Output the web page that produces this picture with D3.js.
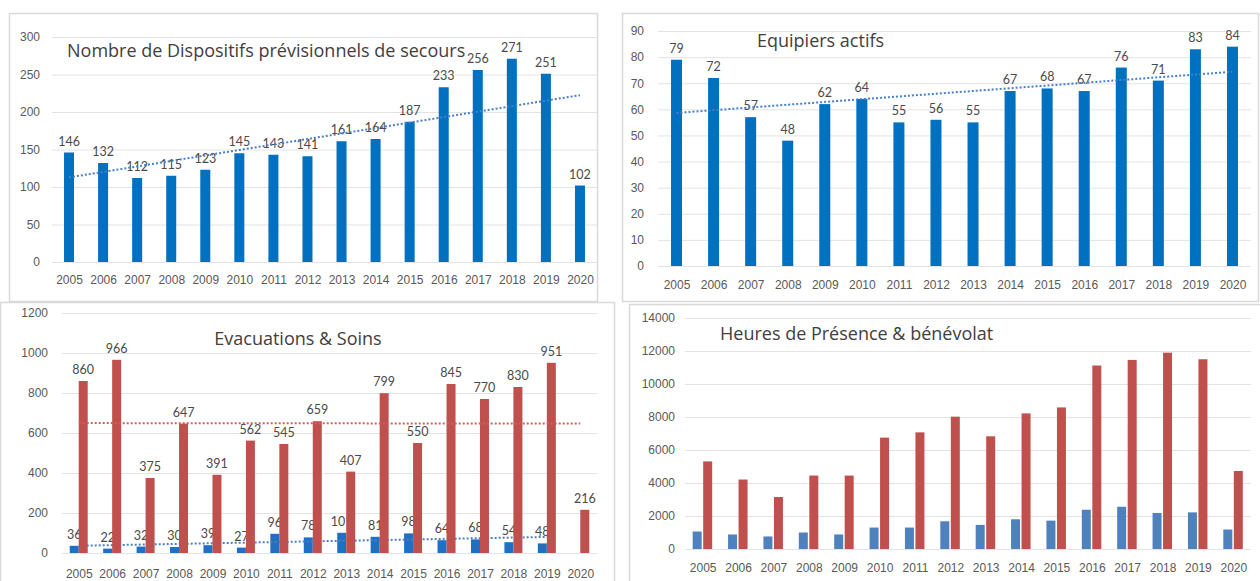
<!DOCTYPE html>
<html>
<head>
<meta charset="utf-8">
<script src="https://cdn.jsdelivr.net/npm/d3@7"></script>
<style>
  body { margin: 0; background: #fff; }
  svg { display: block; font-family: Lato, 'Open Sans', sans-serif; }
</style>
</head>
<body>
<svg width="1260" height="581"></svg>
<script>
const years = ['2005', '2006', '2007', '2008', '2009', '2010', '2011', '2012',
  '2013', '2014', '2015', '2016', '2017', '2018', '2019', '2020'];

// Nombre de Dispositifs prévisionnels de secours
const dispositifs = [146, 132, 112, 115, 123, 145, 143, 141, 161, 164, 187, 233, 256, 271, 251, 102];
// Equipiers actifs
const equipiers = [79, 72, 57, 48, 62, 64, 55, 56, 55, 67, 68, 67, 76, 71, 83, 84];
// Evacuations & Soins (bleu / rouge), pas de valeur bleue en 2020
const evacBleu = [36, 22, 32, 30, 39, 27, 96, 78, 101, 81, 98, 64, 68, 54, 48, null];
const evacRouge = [860, 966, 375, 647, 391, 562, 545, 659, 407, 799, 550, 845, 770, 830, 951, 216];
// Heures de Présence & bénévolat
const heuresBleu = [1060, 880, 760, 1000, 880, 1300, 1300, 1680, 1460, 1800, 1720, 2380, 2560, 2180, 2220, 1180];
const heuresRouge = [5310, 4210, 3150, 4450, 4450, 6750, 7070, 8020, 6830, 8220, 8580, 11120, 11460, 11900, 11500, 4730];

const ticks1 = [0, 50, 100, 150, 200, 250, 300];
const ticks2 = [0, 10, 20, 30, 40, 50, 60, 70, 80, 90];
const ticks3 = [0, 200, 400, 600, 800, 1000, 1200];
const ticks4 = [0, 2000, 4000, 6000, 8000, 10000, 12000, 14000];

const svg = d3.select('svg');

// droite de tendance (moindres carrés) sur les valeurs présentes
function trend(values) {
  const pts = values.map((v, i) => [i, v]).filter((p) => p[1] != null);
  const n = pts.length;
  const mx = d3.mean(pts, (p) => p[0]);
  const my = d3.mean(pts, (p) => p[1]);
  const sxy = d3.sum(pts, (p) => (p[0] - mx) * (p[1] - my));
  const sxx = d3.sum(pts, (p) => (p[0] - mx) * (p[0] - mx));
  const b = sxy / sxx;
  const a = my - b * mx;
  return [pts[0][0], pts[n - 1][0]].map((i) => ({ i, v: a + b * i }));
}

function drawPanel(o) {
  const g = svg.append('g');

  g.append('rect')
    .attr('x', o.frame[0] + 0.5).attr('y', o.frame[1] + 0.5)
    .attr('width', o.frame[2]).attr('height', o.frame[3])
    .attr('fill', '#fff').attr('stroke', '#d9d9d9').attr('stroke-width', 1.5);

  const x = d3.scalePoint().domain(years).range(o.xRange).padding(0.5);
  const y = d3.scaleLinear().domain([0, o.ticks[o.ticks.length - 1]]).range(o.yRange);

  const yAxis = g.append('g')
    .attr('transform', `translate(${o.xRange[0]},0)`)
    .call(d3.axisLeft(y).tickValues(o.ticks).tickFormat(d3.format('d'))
      .tickSize(-(o.xRange[1] - o.xRange[0])).tickPadding(o.yPad));
  yAxis.select('.domain').remove();
  yAxis.selectAll('line').attr('stroke', '#e3e3e3');
  yAxis.selectAll('text').attr('fill', '#595959').style('font-size', '12px');

  const xAxis = g.append('g')
    .attr('transform', `translate(0,${o.yRange[0]})`)
    .call(d3.axisBottom(x).tickSize(0).tickPadding(o.xPad));
  xAxis.select('.domain').remove();
  xAxis.selectAll('text').attr('fill', '#595959').style('font-size', '12px');

  g.append('text')
    .attr('x', o.title.x).attr('y', o.title.y)
    .attr('text-anchor', o.title.anchor || 'start')
    .attr('fill', '#404040')
    .style('font-family', "'Open Sans', sans-serif")
    .style('font-size', '18px')
    .text(o.title.text);

  o.series.forEach((s) => {
    const data = s.values.map((v, i) => ({ year: years[i], v })).filter((d) => d.v != null);
    g.selectAll(null).data(data).enter().append('rect')
      .attr('x', (d) => x(d.year) + s.offset)
      .attr('y', (d) => y(d.v))
      .attr('width', s.width)
      .attr('height', (d) => y(0) - y(d.v))
      .attr('fill', s.color);

    if (s.labels) {
      g.selectAll(null).data(data).enter().append('text')
        .attr('x', (d) => x(d.year) + s.offset + s.width / 2)
        .attr('y', (d) => y(d.v) - 7)
        .attr('text-anchor', 'middle')
        .attr('fill', '#4a4a4a').style('font-size', '12.5px')
        .text((d) => d.v);
    }

    if (s.trend) {
      const line = d3.line()
        .x((d) => x(years[d.i]))
        .y((d) => y(d.v));
      g.append('path')
        .attr('d', line(trend(s.values)))
        .attr('stroke', s.trend)
        .attr('stroke-width', 2)
        .attr('stroke-dasharray', '2,2')
        .attr('fill', 'none');
    }
  });
}

drawPanel({
  frame: [9, 13, 588, 288],
  xRange: [52, 597], yRange: [262, 37], ticks: ticks1, yPad: 12, xPad: 13,
  title: { text: 'Nombre de Dispositifs prévisionnels de secours', x: 67, y: 57 },
  series: [{ values: dispositifs, color: '#0070c0', offset: -5, width: 10, labels: true, trend: '#4a7fc8' }]
});

drawPanel({
  frame: [622, 13, 636, 288],
  xRange: [658, 1251], yRange: [266, 31], ticks: ticks2, yPad: 14, xPad: 14,
  title: { text: 'Equipiers actifs', x: 757, y: 47 },
  series: [{ values: equipiers, color: '#0070c0', offset: -5.5, width: 11, labels: true, trend: '#4a7fc8' }]
});

drawPanel({
  frame: [0, 302, 614, 290],
  xRange: [62, 597], yRange: [553, 313], ticks: ticks3, yPad: 14, xPad: 16,
  title: { text: 'Evacuations & Soins', x: 298, y: 345, anchor: 'middle' },
  series: [
    { values: evacBleu, color: '#1f6fc2', offset: -9, width: 9, labels: true, trend: '#4a7fc8' },
    { values: evacRouge, color: '#c0504d', offset: 0, width: 9, labels: true, trend: '#d0605c' }
  ]
});

drawPanel({
  frame: [629, 304, 640, 290],
  xRange: [685, 1251], yRange: [549, 318], ticks: ticks4, yPad: 10, xPad: 14,
  title: { text: 'Heures de Présence & bénévolat', x: 720, y: 340 },
  series: [
    { values: heuresBleu, color: '#4f81bd', offset: -10, width: 9, labels: false },
    { values: heuresRouge, color: '#c0504d', offset: 0.5, width: 9, labels: false }
  ]
});
</script>
</body>
</html>
